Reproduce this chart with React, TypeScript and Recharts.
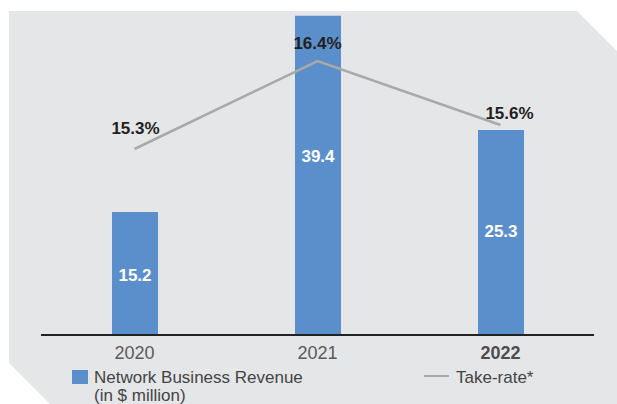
import React from "react";
import { ComposedChart, Bar, Line, XAxis, YAxis, LabelList } from "recharts";

const years = ["2020", "2021", "2022"];
const revenue = [15.2, 39.4, 25.3];
const takeRate = [15.3, 16.4, 15.6];
const boldYears = ["2022"];
const legendBarLines = ["Network Business Revenue", "(in $ million)"];
const legendLineLabel = "Take-rate*";

const data = years.map((y, i) => ({ year: y, revenue: revenue[i], takeRate: takeRate[i] }));

const FONT = '"Liberation Sans", Arial, Helvetica, sans-serif';
const BAR_COLOR = "#5b8fcb";
const LINE_COLOR = "#a9a9a9";
const BG = "#e5e6e8";

const pctNudge = [
  { dx: 1, dy: -15 },
  { dx: 0, dy: -12 },
  { dx: 9, dy: -6 },
];
const barNudge = [8, -13, 4];

const YearTick = (props: any) => {
  const { x, y, payload } = props;
  const bold = boldYears.includes(payload.value);
  return (
    <text x={x} y={y + 24} textAnchor="middle" fontFamily={FONT} fontSize={18}
      fontWeight={bold ? 700 : 400} fill={bold ? "#4d4d4d" : "#5a5a5a"}>
      {payload.value}
    </text>
  );
};

const PctLabel = (props: any) => {
  const { x, y, value, index } = props;
  const n = pctNudge[index] || { dx: 0, dy: -12 };
  return (
    <text x={x + n.dx} y={y + n.dy} textAnchor="middle" fontFamily={FONT} fontSize={17}
      fontWeight={700} fill="#231f20">
      {value.toFixed(1)}%
    </text>
  );
};

const BarValueLabel = (props: any) => {
  const { x, y, width, height, value, index } = props;
  return (
    <text x={x + width / 2} y={y + height / 2 + (barNudge[index] || 6)} textAnchor="middle"
      fontFamily={FONT} fontSize={17} fontWeight={700} fill="#ffffff">
      {value.toFixed(1)}
    </text>
  );
};

export default function App() {
  return (
    <div style={{ position: "fixed", left: 0, top: 0, width: 617, height: 404, overflow: "hidden", background: "#fff" }}>
      <svg width={617} height={404} style={{ position: "absolute", left: 0, top: 0 }}>
        <polygon points="9,11 577,11 640,74 640,420 66,420 9,363" fill={BG} />
      </svg>
      <div style={{ position: "absolute", left: 0, top: 0 }}>
        <ComposedChart width={617} height={404} data={data}
          margin={{ top: 11, right: 23, left: 41, bottom: 39 }}>
          <XAxis dataKey="year" height={30} axisLine={{ stroke: "#222222", strokeWidth: 2 }}
            tickLine={false} tickSize={0} tickMargin={0} padding={{ left: 2, right: 2 }}
            tick={<YearTick />} interval={0} />
          <YAxis yAxisId="rev" hide domain={[0, 40]} />
          <YAxis yAxisId="rate" hide orientation="right" domain={[12.975, 17.025]} />
          <Bar yAxisId="rev" dataKey="revenue" fill={BAR_COLOR} barSize={46} isAnimationActive={false}>
            <LabelList dataKey="revenue" content={<BarValueLabel />} />
          </Bar>
          <Line yAxisId="rate" dataKey="takeRate" type="linear" stroke={LINE_COLOR} strokeWidth={2.5}
            dot={false} activeDot={false} isAnimationActive={false}>
            <LabelList dataKey="takeRate" content={<PctLabel />} />
          </Line>
        </ComposedChart>
      </div>
      <svg width={617} height={404} style={{ position: "absolute", left: 0, top: 0 }}>
        <rect x={72} y={370} width={16} height={14} fill={BAR_COLOR} />
        {legendBarLines.map((t, i) => (
          <text key={t} x={94} y={383 + i * 18} fontFamily={FONT} fontSize={17} fill="#444444">
            {t}
          </text>
        ))}
        <rect x={424} y={375} width={25} height={2} fill={LINE_COLOR} />
        <text x={456} y={383} fontFamily={FONT} fontSize={17} fill="#444444">
          {legendLineLabel}
        </text>
      </svg>
    </div>
  );
}
